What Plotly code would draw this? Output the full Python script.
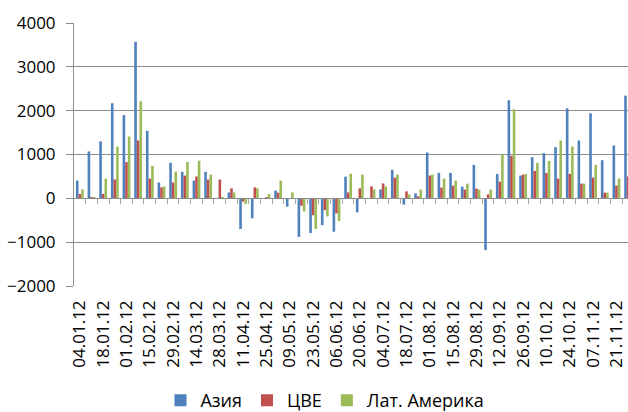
import plotly.graph_objects as go

# Weekly dates (2012)
dates = ["04.01.12", "11.01.12", "18.01.12", "25.01.12", "01.02.12", "08.02.12",
         "15.02.12", "22.02.12", "29.02.12", "07.03.12", "14.03.12", "21.03.12",
         "28.03.12", "04.04.12", "11.04.12", "18.04.12", "25.04.12", "02.05.12",
         "09.05.12", "16.05.12", "23.05.12", "30.05.12", "06.06.12", "13.06.12",
         "20.06.12", "27.06.12", "04.07.12", "11.07.12", "18.07.12", "25.07.12",
         "01.08.12", "08.08.12", "15.08.12", "22.08.12", "29.08.12", "05.09.12",
         "12.09.12", "19.09.12", "26.09.12", "03.10.12", "10.10.12", "17.10.12",
         "24.10.12", "31.10.12", "07.11.12", "14.11.12", "21.11.12", "28.11.12"]

asia = [405, 1070, 1300, 2170, 1900, 3570, 1540, 360, 810, 605, 405, 605,
        0, 135, -700, -455, 0, 175, -190, -880, -790, -612, -762, 495,
        -320, 0, 203, 652, -145, 115, 1045, 580, 580, 267, 763, -1183,
        557, 2237, 520, 940, 1030, 1168, 2053, 1320, 1940, 870, 1206, 2343]

cee = [100, 20, 100, 430, 825, 1320, 450, 250, 360, 520, 500, 428,
       428, 228, -75, 250, 30, 130, 0, -168, -385, -270, -343, 135,
       228, 272, 340, 470, 160, 45, 520, 245, 290, 200, 220, 90,
       380, 970, 540, 626, 580, 450, 557, 336, 473, 130, 290, 496]

latam = [205, 30, 450, 1180, 1410, 2215, 740, 272, 608, 830, 858, 541,
         30, 135, -128, 228, 98, 404, 137, -300, -700, -412, -518, 562,
         541, 203, 272, 541, 90, 200, 540, 450, 405, 335, 200, 200,
         1000, 2030, 557, 810, 855, 1320, 1183, 336, 763, 130, 450, 600]

series = [("Азия", asia, "#4F81BD"),
          ("ЦВЕ", cee, "#C0504D"),
          ("Лат. Америка", latam, "#9BBB59")]

FONT = "Open Sans"
GRID = "#8c8c8c"

fig = go.Figure()
for name, vals, color in series:
    fig.add_trace(go.Bar(x=dates, y=vals, name=name,
                         marker=dict(color=color, line=dict(width=0))))

# Empty trace holding the horizontal axis drawn at zero (ticks between weeks)
fig.add_trace(go.Scatter(x=[], y=[], xaxis="x2", showlegend=False,
                         hoverinfo="skip"))

x_range = [-0.5, 46.99]

fig.update_layout(
    width=628, height=412,
    margin=dict(l=74, r=0, t=23, b=126, autoexpand=False),
    paper_bgcolor="white", plot_bgcolor="white",
    barmode="group", bargap=0.33, bargroupgap=0,
    font=dict(family=FONT, size=17, color="black"),
    xaxis=dict(
        type="category", range=x_range,
        tickmode="array", tickvals=dates[0::2], ticktext=dates[0::2],
        tickangle=-90, ticks="", showline=False, showgrid=False,
        ticklabelstandoff=10,
        tickfont=dict(family=FONT, size=17, color="black"),
    ),
    xaxis2=dict(
        overlaying="x", anchor="free", position=1 / 3, side="bottom",
        range=x_range, showgrid=False, zeroline=False,
        showline=True, linecolor=GRID, linewidth=1,
        ticks="outside", ticklen=5, tickcolor="#a6a6a6", tickwidth=1,
        tickmode="array", tickvals=[i + 0.5 for i in range(len(dates) - 1)],
        showticklabels=False,
    ),
    yaxis=dict(
        range=[-2000, 4000], tickmode="array",
        tickvals=[-2000, -1000, 0, 1000, 2000, 3000, 4000],
        showgrid=True, gridcolor=GRID, gridwidth=1, zeroline=False,
        showline=True, linecolor=GRID, linewidth=1,
        ticks="outside", ticklen=7, tickcolor=GRID,
        ticklabelstandoff=7,
        tickfont=dict(family=FONT, size=17, color="black"),
    ),
    legend=dict(
        orientation="h", xref="paper", x=0.453, xanchor="center",
        yref="container", y=0.028, yanchor="middle",
        font=dict(family=FONT, size=18, color="black"),
        itemwidth=30, tracegroupgap=0,
    ),
)

fig.write_html("out.html")
